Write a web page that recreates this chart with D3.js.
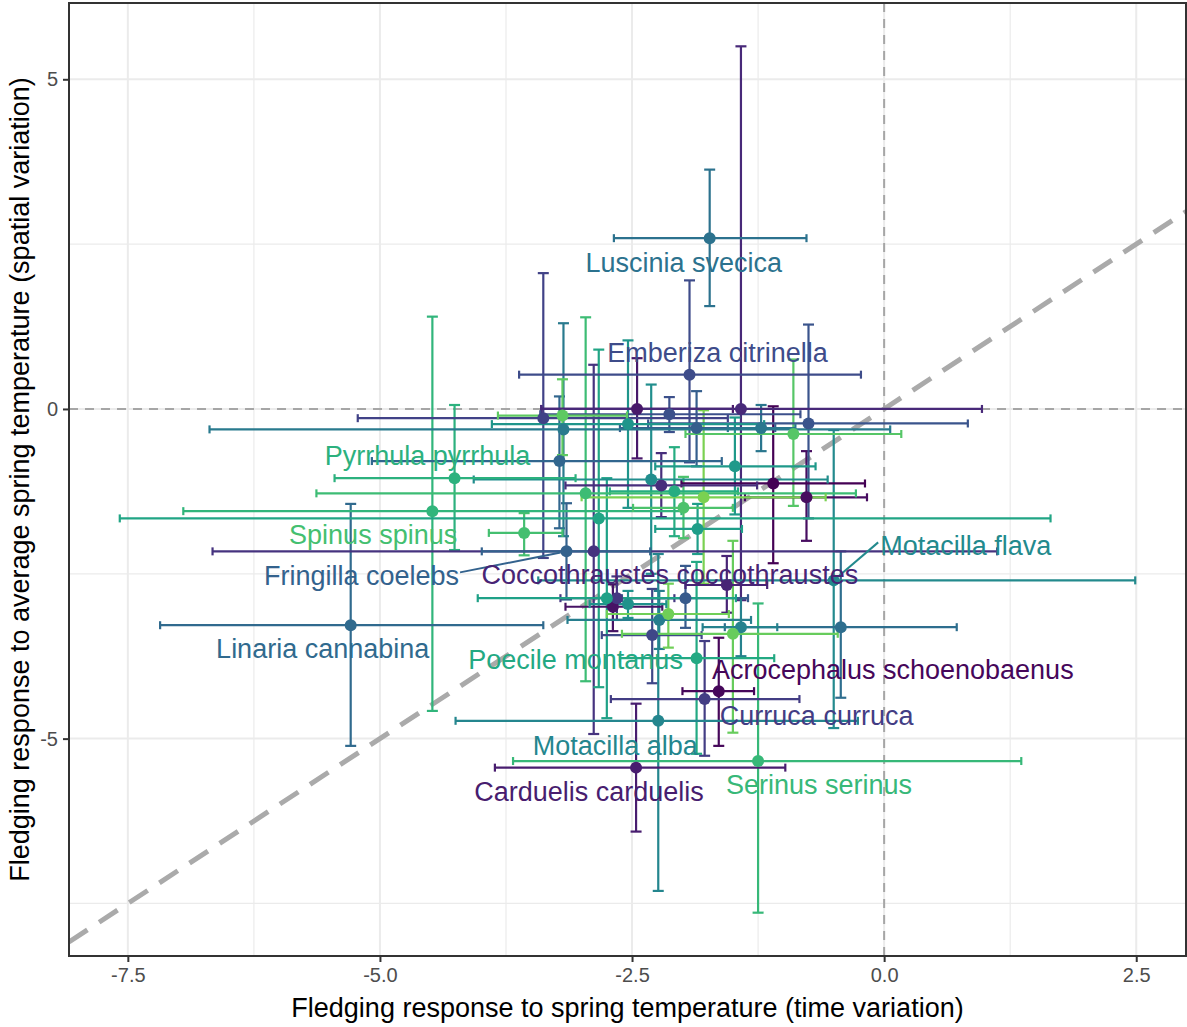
<!DOCTYPE html>
<html>
<head>
<meta charset="utf-8">
<script src="https://cdn.jsdelivr.net/npm/d3@7"></script>
<style>
  body { margin: 0; background: #fff; }
  svg { display: block; font-family: "Liberation Sans", Arial, Helvetica, sans-serif; }
</style>
</head>
<body>
<svg id="chart" width="1187" height="1027"></svg>
<script>
// One row per species, in species order (colour follows the row index).
// Names are only given where the species is labelled on the plot.
const species = [
  "", "Acrocephalus schoenobaenus", "", "", "", "Carduelis carduelis",
  "Coccothraustes coccothraustes", "", "", "", "", "Curruca curruca",
  "", "", "Emberiza citrinella", "", "", "", "", "Fringilla coelebs",
  "", "Linaria cannabina", "", "Luscinia svecica", "", "", "", "",
  "Motacilla alba", "Motacilla flava", "", "", "", "", "", "", "",
  "Poecile montanus", "", "Pyrrhula pyrrhula", "", "Serinus serinus",
  "", "Spinus spinus", "", "", "", "", "", ""
];

// Fledging response to spring temperature (time variation): estimate and interval
const timeEst = [-1.10,-1.64,-0.77,-2.69,-2.45,-2.46,-1.56,-1.42,-2.21,-2.88,
                 -2.65,-1.78,-3.38,-2.30,-1.93,-2.13,-0.75,-1.97,-1.86,-3.15,
                 -3.22,-5.29,-0.43,-1.73,-1.22,-3.18,-2.23,-1.42,-2.24,-0.50,
                 -2.31,-2.54,-2.54,-1.48,-1.85,-2.75,-2.83,-1.86,-2.08,-4.26,
                 -4.48,-1.25,-2.96,-3.57,-1.99,-0.90,-3.19,-1.50,-2.14,-1.79];
const timeLo  = [-2.01,-2.00,-1.38,-3.16,-3.40,-3.86,-1.97,-3.40,-3.16,-6.66,
                 -3.21,-2.71,-5.22,-2.80,-3.62,-3.41,-2.34,-2.60,-2.62,-3.99,
                 -5.08,-7.18,-1.58,-2.68,-1.55,-6.69,-3.14,-1.80,-4.25,-3.43,
                 -4.07,-2.92,-3.89,-2.27,-2.27,-4.03,-7.58,-2.62,-2.72,-5.45,
                 -6.95,-3.68,-5.63,-3.92,-2.49,-1.97,-3.83,-2.60,-2.75,-3.00];
const timeHi  = [-0.19,-1.29,-0.17,-2.20,-1.50,-0.98,-1.16, 0.97,-1.26, 1.12,
                 -2.08,-0.84,-1.55,-1.81,-0.23,-0.83, 0.83,-1.35,-1.08,-2.32,
                 -1.61,-3.38, 0.72,-0.77,-0.88, 0.06,-1.32,-1.06,-0.26, 2.49,
                 -0.56,-2.16,-1.19,-0.68,-1.41,-1.47, 1.65,-1.09,-1.45,-3.06,
                 -2.01, 1.36,-0.28,-3.19,-1.50, 0.17,-2.55,-0.46,-1.54,-0.58];

// Fledging response to average spring temperature (spatial variation)
const spaceEst = [-1.13,-4.28,-1.34,-3.00, 0.00,-5.44,-2.67, 0.00,-1.16,-2.16,
                  -2.87,-4.40,-0.14,-3.43, 0.52,-0.08,-0.22,-2.87,-0.29,-2.16,
                  -0.79,-3.28,-3.31, 2.59,-0.29,-0.31,-3.20,-3.31,-4.73,-2.60,
                  -1.07,-2.96,-0.23,-0.87,-1.82,-2.87,-1.66,-3.78,-1.25,-1.05,
                  -1.55,-5.34,-1.28,-1.88,-1.50,-0.38,-0.10,-3.41,-3.11,-1.34];
const spaceLo  = [-2.34,-5.11,-2.00,-3.37,-0.75,-6.41,-3.09,-2.90,-1.64,-4.93,
                  -3.20,-5.26,-2.26,-4.16,-0.81,-0.35,-1.66,-3.32,-0.87,-2.89,
                  -1.81,-5.11,-4.38, 1.56,-0.64,-1.93,-3.64,-3.75,-7.31,-4.84,
                  -2.50,-3.17,-1.50,-1.60,-2.20,-4.69,-4.22,-5.23,-1.93,-2.14,
                  -4.58,-7.64,-4.13,-2.22,-1.96,-1.47,-0.70,-4.91,-3.62,-2.65];
const spaceHi  = [ 0.04,-3.47,-0.64,-2.66, 0.77,-4.47,-2.23, 5.50,-0.67, 0.67,
                  -2.54,-3.52, 2.06,-2.73, 1.95, 0.18, 1.28,-2.38, 0.27,-1.43,
                   0.19,-1.44,-2.16, 3.63, 0.06, 1.30,-2.76,-2.87,-2.20,-0.32,
                   0.37,-2.76, 1.04,-0.13,-1.44,-1.05, 0.90,-2.32,-0.58, 0.06,
                   1.40,-2.95, 1.39,-1.58,-1.03, 0.75, 0.45,-2.00,-2.65,-0.02];

const xTicks = [-7.5, -5, -2.5, 0, 2.5];
const xTickLabels = ["-7.5", "-5.0", "-2.5", "0.0", "2.5"];
const yTicks = [-5, 0, 5];
const yTickLabels = ["-5", "0", "5"];
const xMinor = [-6.25, -3.75, -1.25, 1.25];
const yMinor = [-7.5, -2.5, 2.5];

const xTitle = "Fledging response to spring temperature (time variation)";
const yTitle = "Fledging response to average spring temperature (spatial variation)";

// Label placement (pixel offsets from the species' point) and leader lines
const labelLayout = {
  "Acrocephalus schoenobaenus": { dx: 174, dy: -21 },
  "Carduelis carduelis": { dx: -47, dy: 24 },
  "Coccothraustes coccothraustes": { dx: -57, dy: -10 },
  "Curruca curruca": { dx: 112, dy: 17 },
  "Emberiza citrinella": { dx: 28, dy: -22 },
  "Fringilla coelebs": { dx: -205, dy: 25, leader: true },
  "Linaria cannabina": { dx: -28, dy: 24 },
  "Luscinia svecica": { dx: -26, dy: 25 },
  "Motacilla alba": { dx: -43, dy: 25 },
  "Motacilla flava": { dx: 132, dy: -34, leader: true },
  "Poecile montanus": { dx: -121, dy: 2 },
  "Pyrrhula pyrrhula": { dx: -27, dy: -22 },
  "Serinus serinus": { dx: 61, dy: 24 },
  "Spinus spinus": { dx: -151, dy: 2 }
};

const rows = species.map((name, i) => ({
  name, i,
  x: timeEst[i], xlo: timeLo[i], xhi: timeHi[i],
  y: spaceEst[i], ylo: spaceLo[i], yhi: spaceHi[i]
}));

const panel = { left: 69, right: 1186, top: 3, bottom: 956 };
const labelSize = 27;

// ggplot-style 5% expansion of the data range
const expand = ([a, b]) => { const d = (b - a) * 0.05; return [a - d, b + d]; };
const x = d3.scaleLinear()
  .domain(expand(d3.extent(timeLo.concat(timeHi))))
  .range([panel.left, panel.right]);
const y = d3.scaleLinear()
  .domain(expand(d3.extent(spaceLo.concat(spaceHi))))
  .range([panel.bottom, panel.top]);

const n = species.length;
const color = d3.scaleSequential(t => d3.interpolateViridis(t * 0.8)).domain([0, n - 1]);

const svg = d3.select("#chart");

svg.append("defs").append("clipPath").attr("id", "panel-clip")
  .append("rect")
  .attr("x", panel.left).attr("y", panel.top)
  .attr("width", panel.right - panel.left).attr("height", panel.bottom - panel.top);

// grid
const grid = svg.append("g");
grid.selectAll(".vminor").data(xMinor).join("line")
  .attr("x1", d => x(d)).attr("x2", d => x(d))
  .attr("y1", panel.top).attr("y2", panel.bottom)
  .attr("stroke", "#ebebeb").attr("stroke-width", 1.2);
grid.selectAll(".hminor").data(yMinor).join("line")
  .attr("y1", d => y(d)).attr("y2", d => y(d))
  .attr("x1", panel.left).attr("x2", panel.right)
  .attr("stroke", "#ebebeb").attr("stroke-width", 1.2);
grid.selectAll(".vmajor").data(xTicks).join("line")
  .attr("x1", d => x(d)).attr("x2", d => x(d))
  .attr("y1", panel.top).attr("y2", panel.bottom)
  .attr("stroke", "#ebebeb").attr("stroke-width", 2);
grid.selectAll(".hmajor").data(yTicks).join("line")
  .attr("y1", d => y(d)).attr("y2", d => y(d))
  .attr("x1", panel.left).attr("x2", panel.right)
  .attr("stroke", "#ebebeb").attr("stroke-width", 2);

// reference lines: zero lines and the 1:1 line
const ref = svg.append("g").attr("clip-path", "url(#panel-clip)");
ref.append("line")
  .attr("x1", x(0)).attr("x2", x(0)).attr("y1", panel.top).attr("y2", panel.bottom)
  .attr("stroke", "#a6a6a6").attr("stroke-width", 2).attr("stroke-dasharray", "9,7");
ref.append("line")
  .attr("y1", y(0)).attr("y2", y(0)).attr("x1", panel.left).attr("x2", panel.right)
  .attr("stroke", "#a6a6a6").attr("stroke-width", 2).attr("stroke-dasharray", "9,7");
const xd = x.domain();
ref.append("line")
  .attr("x1", x(xd[0])).attr("y1", y(xd[0]))
  .attr("x2", x(xd[1])).attr("y2", y(xd[1]))
  .attr("stroke", "#aaaaaa").attr("stroke-width", 5).attr("stroke-dasharray", "22,14");

// error bars
const vCap = 5.5, hCap = 4;
const bars = svg.append("g").attr("fill", "none").attr("stroke-width", 2.2);
const vb = bars.selectAll(".vbar").data(rows).join("g").attr("stroke", d => color(d.i));
vb.append("line").attr("x1", d => x(d.x)).attr("x2", d => x(d.x))
  .attr("y1", d => y(d.ylo)).attr("y2", d => y(d.yhi));
vb.append("line").attr("x1", d => x(d.x) - vCap).attr("x2", d => x(d.x) + vCap)
  .attr("y1", d => y(d.ylo)).attr("y2", d => y(d.ylo));
vb.append("line").attr("x1", d => x(d.x) - vCap).attr("x2", d => x(d.x) + vCap)
  .attr("y1", d => y(d.yhi)).attr("y2", d => y(d.yhi));

const hb = bars.selectAll(".hbar").data(rows).join("g").attr("stroke", d => color(d.i));
hb.append("line").attr("y1", d => y(d.y)).attr("y2", d => y(d.y))
  .attr("x1", d => x(d.xlo)).attr("x2", d => x(d.xhi));
hb.append("line").attr("y1", d => y(d.y) - hCap).attr("y2", d => y(d.y) + hCap)
  .attr("x1", d => x(d.xlo)).attr("x2", d => x(d.xlo));
hb.append("line").attr("y1", d => y(d.y) - hCap).attr("y2", d => y(d.y) + hCap)
  .attr("x1", d => x(d.xhi)).attr("x2", d => x(d.xhi));

// points
svg.append("g").selectAll("circle").data(rows).join("circle")
  .attr("cx", d => x(d.x)).attr("cy", d => y(d.y)).attr("r", 6)
  .attr("fill", d => color(d.i));

// species labels with optional leader lines
const labelled = rows.filter(d => d.name && labelLayout[d.name]);
const lab = svg.append("g");
labelled.forEach(d => {
  const L = labelLayout[d.name];
  const px = x(d.x), py = y(d.y);
  const t = lab.append("text")
    .attr("x", px + L.dx).attr("y", py + L.dy)
    .attr("text-anchor", "middle").attr("dominant-baseline", "central")
    .attr("font-size", labelSize).attr("fill", color(d.i))
    .text(d.name);
  if (L.leader) {
    const bb = t.node().getBBox();
    const sx = L.dx < 0 ? bb.x + bb.width + 1 : bb.x - 2;
    const sy = py + L.dy - 4;
    const ang = Math.atan2(py - sy, px - sx);
    lab.insert("line", "text")
      .attr("x1", sx).attr("y1", sy)
      .attr("x2", px - Math.cos(ang) * 6).attr("y2", py - Math.sin(ang) * 6)
      .attr("stroke", color(d.i)).attr("stroke-width", 2);
  }
});

// panel border
svg.append("rect")
  .attr("x", panel.left).attr("y", panel.top)
  .attr("width", panel.right - panel.left).attr("height", panel.bottom - panel.top)
  .attr("fill", "none").attr("stroke", "#333333").attr("stroke-width", 2);

// axes
const xAxis = svg.append("g").attr("transform", `translate(0,${panel.bottom})`)
  .call(d3.axisBottom(x).tickValues(xTicks).tickFormat((d, i) => xTickLabels[i])
    .tickSize(6).tickPadding(6));
const yAxis = svg.append("g").attr("transform", `translate(${panel.left},0)`)
  .call(d3.axisLeft(y).tickValues(yTicks).tickFormat((d, i) => yTickLabels[i])
    .tickSize(6).tickPadding(5));
[xAxis, yAxis].forEach(g => {
  g.select(".domain").remove();
  g.selectAll(".tick line").attr("stroke", "#333333").attr("stroke-width", 2);
  g.selectAll(".tick text").attr("fill", "#4d4d4d").attr("font-size", 20)
    .attr("font-family", "Liberation Sans, Arial, sans-serif");
});

svg.append("text")
  .attr("x", (panel.left + panel.right) / 2).attr("y", 1008)
  .attr("text-anchor", "middle").attr("dominant-baseline", "central")
  .attr("font-size", labelSize).attr("fill", "#000").text(xTitle);
svg.append("text")
  .attr("transform", `translate(20,${(panel.top + panel.bottom) / 2}) rotate(-90)`)
  .attr("text-anchor", "middle").attr("dominant-baseline", "central")
  .attr("font-size", labelSize).attr("fill", "#000").text(yTitle);
</script>
</body>
</html>
